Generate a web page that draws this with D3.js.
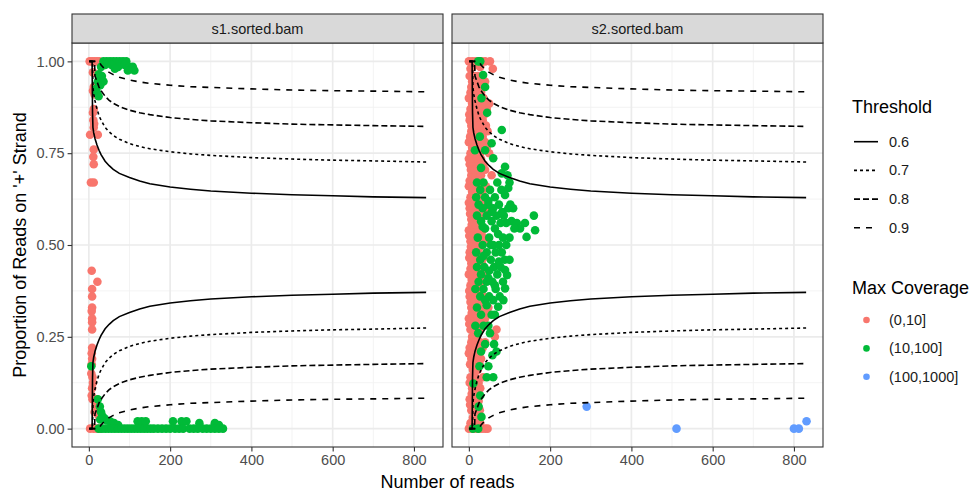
<!DOCTYPE html>
<html>
<head>
<meta charset="utf-8">
<script src="https://cdn.jsdelivr.net/npm/d3@7"></script>
<style>
  body { margin: 0; background: #fff; }
  text { font-family: "Liberation Sans", Arial, sans-serif; }
</style>
</head>
<body>
<div id="container"></div>
<script>
"use strict";

// SECTION: data
const samples = ["s1.sorted.bam", "s2.sorted.bam"];
const coverageLevels = ["(0,10]", "(10,100]", "(100,1000]"];
const coverageColors = ["#F8766D", "#00BA38", "#619CFF"];
const thresholds = ["0.6", "0.7", "0.8", "0.9"];
const xTicks = [0, 200, 400, 600, 800];
const yTicks = [0, 0.25, 0.5, 0.75, 1];

// number of reads where the threshold curves were read
const readsN = [1, 6, 8, 9, 10, 12, 14, 15, 20, 25, 30, 40, 50, 60, 75, 100, 125, 150, 200, 250, 300, 400, 500, 600, 700, 830];
const upper06 = [1, 1, 1, 0.86, 0.82, 0.805, 0.795, 0.79, 0.772, 0.758, 0.746, 0.728, 0.716, 0.706, 0.695, 0.684, 0.674, 0.667, 0.658, 0.652, 0.647, 0.641, 0.637, 0.634, 0.631, 0.629];
const lower06 = [0, 0, 0, 0.14, 0.18, 0.195, 0.205, 0.21, 0.228, 0.242, 0.254, 0.272, 0.284, 0.294, 0.305, 0.316, 0.326, 0.333, 0.342, 0.348, 0.353, 0.359, 0.363, 0.366, 0.369, 0.371];
const upper07 = [1, 1, 1, 1, 0.93, 0.91, 0.90, 0.893, 0.87, 0.852, 0.84, 0.82, 0.808, 0.798, 0.788, 0.776, 0.768, 0.762, 0.754, 0.748, 0.744, 0.738, 0.734, 0.731, 0.729, 0.726];
const lower07 = [0, 0, 0, 0, 0.07, 0.09, 0.10, 0.107, 0.13, 0.148, 0.16, 0.18, 0.192, 0.202, 0.212, 0.224, 0.232, 0.238, 0.246, 0.252, 0.256, 0.262, 0.266, 0.269, 0.271, 0.274];
const upper08 = [1, 1, 1, 1, 1, 1, 1, 0.96, 0.945, 0.93, 0.92, 0.905, 0.894, 0.886, 0.877, 0.867, 0.86, 0.855, 0.847, 0.842, 0.838, 0.833, 0.829, 0.827, 0.825, 0.823];
const lower08 = [0, 0, 0, 0, 0, 0, 0, 0.04, 0.055, 0.07, 0.08, 0.095, 0.106, 0.114, 0.123, 0.133, 0.14, 0.145, 0.153, 0.158, 0.162, 0.167, 0.171, 0.173, 0.175, 0.177];
const upper09 = [1, 1, 1, 1, 1, 1, 1, 1, 1, 1, 0.99, 0.978, 0.97, 0.964, 0.957, 0.949, 0.944, 0.94, 0.935, 0.931, 0.929, 0.925, 0.922, 0.92, 0.919, 0.917];
const lower09 = [0, 0, 0, 0, 0, 0, 0, 0, 0, 0, 0.01, 0.022, 0.03, 0.036, 0.043, 0.051, 0.056, 0.06, 0.065, 0.069, 0.071, 0.075, 0.078, 0.08, 0.081, 0.083];

// points: [number of reads, proportion on + strand]
const s1Red = [
  [2,1],[8,1],[14,1],[20,1],[26,1],[10,0.97],[12,0.93],[10,0.92],[14,0.91],
  [12,0.87],[10,0.86],[11,0.84],[13,0.83],[12,0.82],[3,0.80],[22,0.80],
  [12,0.76],[11,0.74],[12,0.72],[5,0.67],[12,0.67],
  [7,0.43],[21,0.40],[8,0.38],[8,0.36],[8,0.33],[7,0.32],[8,0.30],[8,0.29],[8,0.27],
  [8,0.22],[7,0.205],[8,0.19],[7,0.175],[6,0.15],[9,0.14],[10,0.125],[8,0.11],[7,0.09],
  [9,0.08],[18,0.075],[16,0.06],[22,0.05],[14,0.045],[20,0.08],[24,0.035],
  [3,0],[12,0],[20,0],[28,0]
];
const s1Green = [
  [36,1],[44,1],[52,1],[60,1],[68,1],[76,1],[84,1],[92,1],[40,0.99],[56,0.99],
  [72,0.985],[88,0.99],[100,0.985],[108,0.985],[112,0.975],[64,0.98],[96,0.975],
  [30,0.985],[24,0.965],[32,0.96],[22,0.945],[36,0.945],[28,0.935],[20,0.915],[24,0.905],[18,0.925],
  [6,0.17],[22,0.08],[27,0.06],[30,0.045],[33,0.035],[38,0.028],[28,0.025],[44,0.022],[52,0.02],
  [62,0.015],[72,0.01],[120,0.02],[130,0.02],[140,0.02],[207,0.02],[228,0.02],[240,0.02],
  [272,0.015],[310,0.015],[320,0.01],
  [24,0],[32,0],[40,0],[48,0],[56,0],[64,0],[72,0],[80,0],[88,0],[96,0],[104,0],[112,0],
  [120,0],[128,0],[136,0],[144,0],[152,0],[160,0],[170,0],[180,0],[190,0],[200,0],[212,0],
  [222,0],[232,0],[248,0],[258,0],[268,0],[280,0],[290,0],[300,0],[310,0],[320,0],[330,0]
];
const s2Red = [
  [0,1],[8,1],[16,1],[24,1],[32,1],[40,1],[52,1],[59,0.98],[4,0.98],
  [2,0.96],[14,0.96],[22,0.96],[6,0.93],[18,0.93],[30,0.93],[0,0.90],[10,0.90],[24,0.90],[36,0.90],
  [4,0.87],[16,0.87],[28,0.87],[44,0.87],[2,0.84],[12,0.84],[22,0.84],[34,0.84],
  [6,0.81],[18,0.81],[30,0.81],[46,0.81],[0,0.78],[10,0.78],[22,0.78],[40,0.78],
  [4,0.75],[14,0.75],[28,0.75],[50,0.75],[2,0.72],[12,0.72],[24,0.72],[36,0.72],
  [6,0.69],[18,0.69],[30,0.69],[56,0.69],[0,0.66],[10,0.66],[20,0.66],[42,0.66],
  [4,0.63],[16,0.63],[28,0.63],[38,0.63],[2,0.60],[12,0.60],[24,0.60],[46,0.60],
  [6,0.57],[18,0.57],[30,0.57],[0,0.54],[10,0.54],[22,0.54],[34,0.54],
  [4,0.51],[14,0.51],[26,0.51],[44,0.51],[2,0.48],[12,0.48],[24,0.48],
  [6,0.45],[18,0.45],[32,0.45],[0,0.42],[10,0.42],[22,0.42],[40,0.42],
  [4,0.39],[16,0.39],[28,0.39],[2,0.36],[12,0.36],[24,0.36],[36,0.36],
  [6,0.33],[18,0.33],[30,0.33],[48,0.33],[0,0.30],[10,0.30],[22,0.30],[40,0.30],
  [4,0.27],[14,0.27],[26,0.27],[68,0.27],[64,0.25],[8,0.25],[20,0.25],
  [2,0.22],[12,0.22],[24,0.22],[34,0.22],[6,0.19],[18,0.19],[30,0.19],
  [0,0.205],[10,0.16],[22,0.16],[4,0.14],[16,0.14],[35,0.14],[8,0.11],[20,0.11],[28,0.11],
  [2,0.08],[14,0.08],[24,0.075],[6,0.05],[18,0.05],[27,0.05],[10,0.03],[22,0.03],
  [0,0],[8,0],[16,0],[24,0],[32,0],[40,0],[46,0],
  [10,0.985],[28,0.985],[8,0.945],[26,0.945],[40,0.945],[4,0.915],[15,0.915],[30,0.915],
  [8,0.885],[20,0.885],[34,0.885],[50,0.885],[1,0.855],[10,0.855],[26,0.855],[38,0.855],
  [6,0.825],[16,0.825],[28,0.825],[42,0.825],[3,0.795],[14,0.795],[34,0.795],
  [8,0.765],[18,0.765],[32,0.765],[44,0.765],[0,0.735],[7,0.735],[20,0.735],[30,0.735],
  [5,0.705],[14,0.705],[26,0.705],[40,0.705],[2,0.675],[15,0.675],[25,0.675],
  [8,0.645],[20,0.645],[33,0.645],[0,0.615],[7,0.615],[18,0.615],[30,0.615],
  [3,0.585],[13,0.585],[24,0.585],[38,0.585],[7,0.555],[16,0.555],[27,0.555],
  [1,0.525],[9,0.525],[20,0.525],[32,0.525],[5,0.495],[17,0.495],[28,0.495],
  [1,0.465],[9,0.465],[21,0.465],[36,0.465],[4,0.435],[14,0.435],[27,0.435],
  [7,0.405],[19,0.405],[33,0.405],[1,0.375],[9,0.375],[20,0.375],[30,0.375],
  [4,0.345],[14,0.345],[26,0.345],[7,0.315],[16,0.315],[34,0.315],[44,0.315],
  [1,0.285],[19,0.285],[30,0.285],[6,0.235],[16,0.235],[28,0.235],[40,0.235],
  [9,0.205],[22,0.205],[3,0.175],[14,0.175],[26,0.175],[2,0.125],[12,0.125],[24,0.125],
  [7,0.095],[18,0.095],[3,0.065],[12,0.065],[22,0.065],[4,0.015],[14,0.015],[28,0.015]
];
const s2Green = [
  [23,1],[28,1],[35,0.963],[40,0.93],[31,0.90],[45,0.86],
  [81,0.813],[27,0.795],[56,0.777],[15,0.758],[40,0.758],
  [60,0.736],[89,0.713],[30,0.71],[81,0.695],[95,0.69],
  [20,0.67],[36,0.67],[70,0.67],[100,0.67],[28,0.65],[52,0.65],[80,0.65],[97,0.655],
  [40,0.63],[64,0.63],[89,0.636],[18,0.63],[24,0.61],[48,0.61],[74,0.61],[102,0.61],
  [97,0.60],[109,0.60],[60,0.60],[34,0.60],[160,0.58],[20,0.58],[44,0.58],[68,0.58],[86,0.58],
  [105,0.565],[118,0.56],[56,0.565],[30,0.565],[138,0.56],[126,0.545],[78,0.56],[92,0.56],
  [40,0.545],[64,0.545],[112,0.545],[163,0.54],[142,0.522],[22,0.52],[50,0.52],[84,0.52],[100,0.52],
  [34,0.50],[60,0.50],[74,0.50],[92,0.50],[81,0.48],[18,0.48],[44,0.48],[66,0.48],
  [28,0.46],[54,0.46],[88,0.46],[100,0.46],[38,0.44],[62,0.44],[78,0.44],[20,0.44],
  [89,0.432],[50,0.43],[30,0.42],[70,0.42],[94,0.418],[44,0.40],[58,0.40],[84,0.40],[24,0.40],
  [89,0.382],[36,0.38],[66,0.38],[16,0.38],[50,0.36],[76,0.36],[28,0.36],[85,0.35],[40,0.35],[60,0.35],
  [44,0.336],[72,0.332],[20,0.33],[30,0.31],[56,0.31],[64,0.31],[36,0.28],[48,0.28],[16,0.28],
  [23,0.26],[52,0.26],[40,0.23],[62,0.23],[68,0.21],[30,0.21],[58,0.20],[26,0.17],[48,0.17],
  [44,0.14],[60,0.14],[11,0.123],[28,0.09],[24,0.06],[31,0.032],[10,0],[23,0],
  [48,0.62],[56,0.59],[72,0.53],[54,0.50],[36,0.47],[74,0.455],[48,0.41],[64,0.39],[34,0.55],[82,0.59]
];
const s2Blue = [[290,0.06],[511,0],[800,0],[812,0],[831,0.02]];

// SECTION: layout
const width = 971, height = 493;
const panelTop = 43, panelBottom = 447, stripTop = 14;
const panelLefts = [72, 452], panelW = 371;
const panelH = panelBottom - panelTop;

const svg = d3.select("#container").append("svg")
    .attr("width", width)
    .attr("height", height)
    .style("background", "#fff");

const x = d3.scaleLinear().domain([-41.5, 871.5]).range([0, panelW]);
const y = d3.scaleLinear().domain([-0.05, 1.05]).range([panelH, 0]);

const line = d3.line()
    .x((d, i) => x(readsN[i]))
    .y(d => y(d));

const curves = [
  {th: "0.6", vals: upper06}, {th: "0.6", vals: lower06},
  {th: "0.7", vals: upper07}, {th: "0.7", vals: lower07},
  {th: "0.8", vals: upper08}, {th: "0.8", vals: lower08},
  {th: "0.9", vals: upper09}, {th: "0.9", vals: lower09}
];
const dashes = {"0.6": null, "0.7": "3,3", "0.8": "6,3", "0.9": "6,6"};

const pointsBySample = [
  [{pts: s1Red, col: coverageColors[0]}, {pts: s1Green, col: coverageColors[1]}],
  [{pts: s2Red, col: coverageColors[0]}, {pts: s2Green, col: coverageColors[1]}, {pts: s2Blue, col: coverageColors[2]}]
];

samples.forEach((name, k) => {
  const g = svg.append("g").attr("transform", `translate(${panelLefts[k]},${panelTop})`);

  // minor grid
  [100, 300, 500, 700].forEach(v => g.append("line")
      .attr("x1", x(v)).attr("x2", x(v)).attr("y1", 0).attr("y2", panelH)
      .attr("stroke", "#F2F2F2").attr("stroke-width", 0.9));
  [0.125, 0.375, 0.625, 0.875].forEach(v => g.append("line")
      .attr("x1", 0).attr("x2", panelW).attr("y1", y(v)).attr("y2", y(v))
      .attr("stroke", "#F2F2F2").attr("stroke-width", 0.9));
  // major grid
  xTicks.forEach(v => g.append("line")
      .attr("x1", x(v)).attr("x2", x(v)).attr("y1", 0).attr("y2", panelH)
      .attr("stroke", "#EBEBEB").attr("stroke-width", 1.7));
  yTicks.forEach(v => g.append("line")
      .attr("x1", 0).attr("x2", panelW).attr("y1", y(v)).attr("y2", y(v))
      .attr("stroke", "#EBEBEB").attr("stroke-width", 1.7));

  // points
  pointsBySample[k].forEach(grp => {
    g.selectAll(null)
      .data(grp.pts)
      .enter()
      .append("circle")
        .attr("cx", d => x(d[0]))
        .attr("cy", d => y(d[1]))
        .attr("r", 4.3)
        .attr("fill", grp.col);
  });

  // threshold curves
  curves.forEach(c => {
    g.append("path")
      .attr("d", line(c.vals))
      .attr("fill", "none")
      .attr("stroke", "#000")
      .attr("stroke-width", 1.6)
      .attr("stroke-dasharray", dashes[c.th]);
  });

  // panel border
  g.append("rect")
    .attr("width", panelW).attr("height", panelH)
    .attr("fill", "none").attr("stroke", "#333333").attr("stroke-width", 1.1);

  // strip
  svg.append("rect")
    .attr("x", panelLefts[k]).attr("y", stripTop)
    .attr("width", panelW).attr("height", panelTop - stripTop)
    .attr("fill", "#D9D9D9").attr("stroke", "#333333").attr("stroke-width", 1.1);
  svg.append("text")
    .attr("x", panelLefts[k] + panelW / 2)
    .attr("y", (stripTop + panelTop) / 2)
    .attr("dy", "0.35em")
    .attr("text-anchor", "middle")
    .style("font-size", "14.5px")
    .style("fill", "#1A1A1A")
    .text(name);

  // x axis
  const xa = g.append("g")
    .attr("transform", `translate(0,${panelH})`)
    .call(d3.axisBottom(x).tickValues(xTicks).tickSize(4.4).tickPadding(3));
  xa.select(".domain").remove();
  xa.selectAll("line").attr("stroke", "#333333").attr("stroke-width", 1.1);
  xa.selectAll("text").style("font-size", "14.5px").style("fill", "#4D4D4D")
    .style("font-family", "Liberation Sans, Arial, sans-serif");

  if (k === 0) {
    const ya = g.append("g")
      .call(d3.axisLeft(y).tickValues(yTicks).tickFormat(d3.format(".2f")).tickSize(4.4).tickPadding(3));
    ya.select(".domain").remove();
    ya.selectAll("line").attr("stroke", "#333333").attr("stroke-width", 1.1);
    ya.selectAll("text").style("font-size", "14.5px").style("fill", "#4D4D4D")
      .style("font-family", "Liberation Sans, Arial, sans-serif");
  }
});

// axis titles
svg.append("text")
  .attr("x", (panelLefts[0] + panelLefts[1] + panelW) / 2)
  .attr("y", 488)
  .attr("text-anchor", "middle")
  .style("font-size", "18px")
  .text("Number of reads");

svg.append("text")
  .attr("transform", `translate(26,${(panelTop + panelBottom) / 2}) rotate(-90)`)
  .attr("text-anchor", "middle")
  .style("font-size", "18px")
  .text("Proportion of Reads on '+' Strand");

// SECTION: legends
const lg = svg.append("g").attr("transform", "translate(852,0)");
lg.append("text").attr("x", 0).attr("y", 113).style("font-size", "18px").text("Threshold");
thresholds.forEach((t, i) => {
  const cy = 141.7 + i * 28.7;
  lg.append("line")
    .attr("x1", 2).attr("x2", 26).attr("y1", cy).attr("y2", cy)
    .attr("stroke", "#000").attr("stroke-width", 1.6)
    .attr("stroke-dasharray", dashes[t]);
  lg.append("text").attr("x", 37).attr("y", cy).attr("dy", "0.35em")
    .style("font-size", "14.5px").style("fill", "#1A1A1A").text(t);
});

lg.append("text").attr("x", 0).attr("y", 294).style("font-size", "18px").text("Max Coverage");
coverageLevels.forEach((c, i) => {
  const cy = 320 + i * 28.4;
  lg.append("circle").attr("cx", 14.5).attr("cy", cy).attr("r", 3.3).attr("fill", coverageColors[i]);
  lg.append("text").attr("x", 37).attr("y", cy).attr("dy", "0.35em")
    .style("font-size", "14.5px").style("fill", "#1A1A1A").text(c);
});
</script>
</body>
</html>
